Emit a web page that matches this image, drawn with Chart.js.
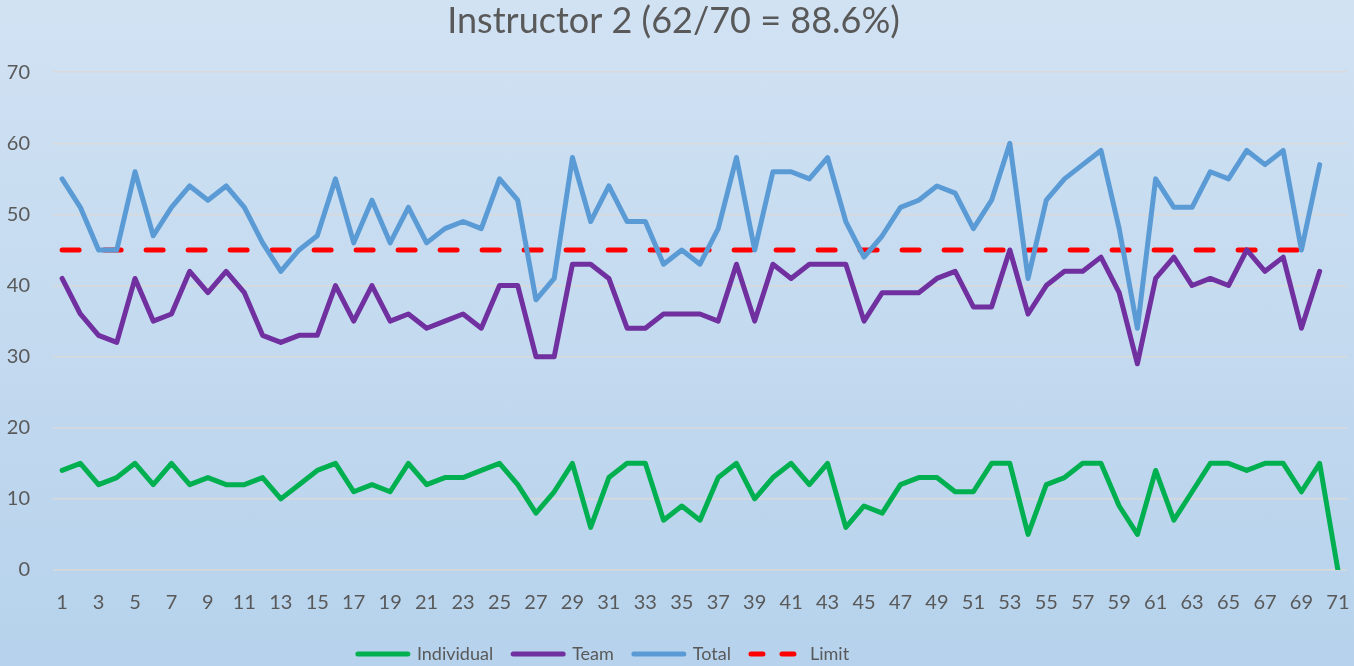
<!DOCTYPE html>
<html>
<head>
<meta charset="utf-8">
<script src="https://cdn.jsdelivr.net/npm/chart.js@4.4.1/dist/chart.umd.min.js"></script>
<style>
  html, body { margin: 0; padding: 0; }
  body {
    width: 1354px;
    height: 666px;
    background: linear-gradient(to bottom, #d1e2f3 0%, #b6d2ec 100%);
  }
  #wrap { position: relative; width: 1354px; height: 666px; }
</style>
</head>
<body>
<div id="wrap"><canvas id="myChart"></canvas></div>
<script>
const sessions = [];
for (let i = 1; i <= 71; i++) sessions.push(String(i));

const individual = [14, 15, 12, 13, 15, 12, 15, 12, 13, 12, 12, 13, 10, 12, 14, 15, 11, 12, 11, 15,
    12, 13, 13, 14, 15, 12, 8, 11, 15, 6, 13, 15, 15, 7, 9, 7, 13, 15, 10, 13,
    15, 12, 15, 6, 9, 8, 12, 13, 13, 11, 11, 15, 15, 5, 12, 13, 15, 15, 9, 5,
    14, 7, 11, 15, 15, 14, 15, 15, 11, 15, 0];
const team = [41, 36, 33, 32, 41, 35, 36, 42, 39, 42, 39, 33, 32, 33, 33, 40, 35, 40, 35, 36,
    34, 35, 36, 34, 40, 40, 30, 30, 43, 43, 41, 34, 34, 36, 36, 36, 35, 43, 35, 43,
    41, 43, 43, 43, 35, 39, 39, 39, 41, 42, 37, 37, 45, 36, 40, 42, 42, 44, 39, 29,
    41, 44, 40, 41, 40, 45, 42, 44, 34, 42];
const total = [55, 51, 45, 45, 56, 47, 51, 54, 52, 54, 51, 46, 42, 45, 47, 55, 46, 52, 46, 51,
    46, 48, 49, 48, 55, 52, 38, 41, 58, 49, 54, 49, 49, 43, 45, 43, 48, 58, 45, 56,
    56, 55, 58, 49, 44, 47, 51, 52, 54, 53, 48, 52, 60, 41, 52, 55, 57, 59, 48, 34,
    55, 51, 51, 56, 55, 59, 57, 59, 45, 57];
const limit = [];
for (let i = 0; i < 70; i++) limit.push(45);

const titleText = 'Instructor 2 (62/70 = 88.6%)';
const textColor = '#595959';
const fontFamily = 'Lato, "Open Sans", sans-serif';

// excel puts the legend lower and left of centre
const legendShift = {
    id: 'legendShift',
    afterLayout(chart) {
        chart.legend.top += 7;
        chart.legend.bottom += 7;
        chart.legend.left -= 70;
        chart.legend.right -= 70;
    }
};

function lineDataset(label, data, color, dash) {
    return {
        label: label,
        data: data,
        borderColor: color,
        backgroundColor: color,
        borderWidth: 5,
        borderDash: dash || [],
        borderCapStyle: 'round',
        borderJoinStyle: 'round',
        pointRadius: 0,
        pointHoverRadius: 0,
        tension: 0,
        fill: false
    };
}

const ctx = document.getElementById('myChart').getContext('2d');
const myChart = new Chart(ctx, {
    type: 'line',
    data: {
        labels: sessions,
        datasets: [
            lineDataset('Individual', individual, '#00b050'),
            lineDataset('Team', team, '#7030a0'),
            lineDataset('Total', total, '#5b9bd5'),
            lineDataset('Limit', limit, '#ff0000', [17, 25])
        ]
    },
    options: {
        responsive: true,
        maintainAspectRatio: false,
        animation: false,
        layout: {
            padding: { left: 0, right: 7, top: 0, bottom: 0 }
        },
        plugins: {
            title: {
                display: true,
                text: titleText,
                color: textColor,
                font: { family: fontFamily, size: 36, weight: 'normal' },
                padding: { top: 0, bottom: 29 }
            },
            legend: {
                position: 'bottom',
                labels: {
                    color: textColor,
                    font: { family: fontFamily, size: 18 },
                    usePointStyle: true,
                    pointStyleWidth: 50,
                    padding: 20,
                    generateLabels(chart) {
                        return chart.data.datasets.map((ds, i) => ({
                            text: ds.label,
                            fillStyle: ds.borderColor,
                            strokeStyle: ds.borderColor,
                            lineWidth: 5,
                            lineCap: 'round',
                            lineDash: ds.borderDash.length ? [12, 19] : [],
                            pointStyle: 'line',
                            fontColor: textColor,
                            hidden: false,
                            datasetIndex: i
                        }));
                    }
                }
            },
            tooltip: { enabled: false }
        },
        scales: {
            x: {
                offset: true,
                grid: { display: false, drawTicks: false },
                border: { display: false },
                ticks: {
                    color: textColor,
                    font: { family: fontFamily, size: 20 },
                    autoSkip: false,
                    maxRotation: 0,
                    padding: 21,
                    callback: function(value, index) {
                        return index % 2 === 0 ? this.getLabelForValue(value) : '';
                    }
                },
                afterFit(scale) {
                    scale.height = 48;
                    // don't let the end labels push the plot inwards
                    scale.paddingLeft = 0;
                    scale.paddingRight = 0;
                }
            },
            y: {
                min: 0,
                max: 70,
                grid: { color: '#d9d9d9', lineWidth: 1.5, drawTicks: false },
                border: { display: false },
                ticks: {
                    stepSize: 10,
                    color: textColor,
                    font: { family: fontFamily, size: 20 },
                    padding: 23
                },
                afterFit(scale) {
                    scale.width = 53;
                }
            }
        }
    },
    plugins: [legendShift]
});
</script>
</body>
</html>
